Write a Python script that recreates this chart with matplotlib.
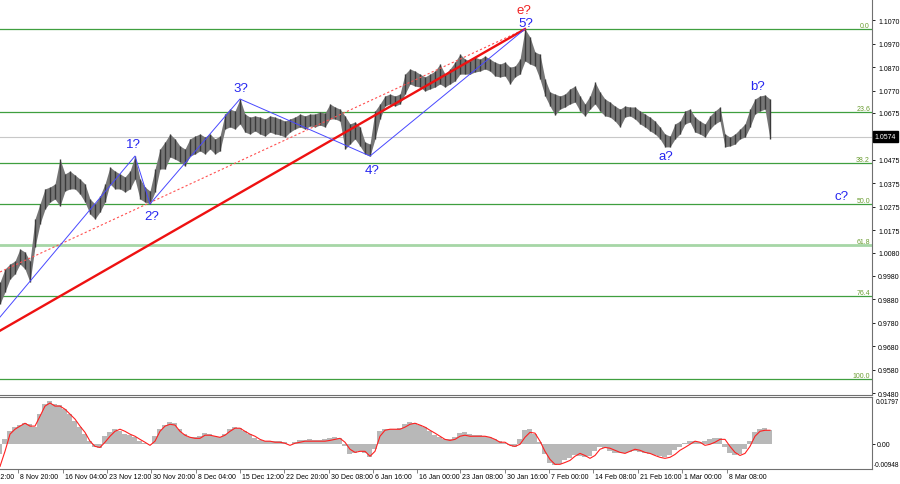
import numpy as np
import matplotlib
matplotlib.use('Agg')
import matplotlib.pyplot as plt
import matplotlib.transforms as mtrans

plt.rcParams['font.family'] = ['Liberation Sans', 'DejaVu Sans']

# ---- price bars (4H EUR/USD, sampled) ----
high = [0.9954, 1.0010, 1.0031, 1.0044, 1.0095, 1.0082, 1.0044, 1.0223, 1.0287, 1.0351,
        1.0359, 1.0372, 1.0478, 1.0415, 1.0427, 1.0410, 1.0393, 1.0372, 1.0308, 1.0287,
        1.0321, 1.0372, 1.0444, 1.0427, 1.0415, 1.0402, 1.0427, 1.0491, 1.0393, 1.0359,
        1.0342, 1.0436, 1.0521, 1.0551, 1.0585, 1.0564, 1.0534, 1.0521, 1.0564, 1.0576,
        1.0585, 1.0572, 1.0585, 1.0564, 1.0576, 1.0670, 1.0691, 1.0683, 1.0734, 1.0670,
        1.0657, 1.0662, 1.0657, 1.0649, 1.0662, 1.0657, 1.0649, 1.0640, 1.0649, 1.0657,
        1.0670, 1.0662, 1.0670, 1.0670, 1.0679, 1.0674, 1.0713, 1.0700, 1.0691, 1.0662,
        1.0628, 1.0636, 1.0615, 1.0551, 1.0542, 1.0683, 1.0713, 1.0747, 1.0755, 1.0747,
        1.0755, 1.0840, 1.0862, 1.0853, 1.0840, 1.0828, 1.0840, 1.0853, 1.0883, 1.0840,
        1.0862, 1.0891, 1.0925, 1.0904, 1.0896, 1.0912, 1.0904, 1.0917, 1.0904, 1.0891,
        1.0883, 1.0891, 1.0870, 1.0874, 1.0904, 1.1032, 1.0998, 1.0934, 1.0925, 1.0819,
        1.0764, 1.0755, 1.0747, 1.0755, 1.0777, 1.0789, 1.0747, 1.0713, 1.0747, 1.0806,
        1.0764, 1.0734, 1.0721, 1.0704, 1.0691, 1.0704, 1.0700, 1.0700, 1.0683, 1.0670,
        1.0657, 1.0640, 1.0615, 1.0585, 1.0576, 1.0628, 1.0640, 1.0683, 1.0691, 1.0657,
        1.0640, 1.0628, 1.0662, 1.0683, 1.0700, 1.0585, 1.0572, 1.0585, 1.0606, 1.0628,
        1.0691, 1.0734, 1.0747, 1.0751, 1.0734]
low = [0.9861, 0.9912, 0.9967, 0.9989, 1.0031, 1.0010, 0.9954, 1.0104, 1.0202, 1.0265,
       1.0295, 1.0308, 1.0278, 1.0342, 1.0351, 1.0351, 1.0329, 1.0295, 1.0244, 1.0223,
       1.0253, 1.0295, 1.0372, 1.0351, 1.0351, 1.0338, 1.0351, 1.0393, 1.0308, 1.0295,
       1.0287, 1.0338, 1.0436, 1.0436, 1.0487, 1.0478, 1.0466, 1.0449, 1.0491, 1.0500,
       1.0513, 1.0500, 1.0521, 1.0500, 1.0513, 1.0606, 1.0615, 1.0606, 1.0628, 1.0593,
       1.0585, 1.0598, 1.0585, 1.0576, 1.0593, 1.0585, 1.0581, 1.0572, 1.0593, 1.0606,
       1.0615, 1.0606, 1.0619, 1.0615, 1.0623, 1.0615, 1.0649, 1.0649, 1.0640, 1.0521,
       1.0542, 1.0564, 1.0534, 1.0500, 1.0491, 1.0564, 1.0649, 1.0704, 1.0713, 1.0704,
       1.0713, 1.0755, 1.0798, 1.0789, 1.0785, 1.0768, 1.0777, 1.0785, 1.0798, 1.0785,
       1.0798, 1.0811, 1.0840, 1.0840, 1.0840, 1.0849, 1.0853, 1.0862, 1.0853, 1.0832,
       1.0828, 1.0832, 1.0798, 1.0828, 1.0840, 1.0896, 1.0883, 1.0874, 1.0819, 1.0747,
       1.0704, 1.0666, 1.0691, 1.0700, 1.0713, 1.0721, 1.0683, 1.0662, 1.0691, 1.0713,
       1.0683, 1.0662, 1.0657, 1.0640, 1.0615, 1.0657, 1.0662, 1.0649, 1.0628, 1.0615,
       1.0598, 1.0585, 1.0564, 1.0530, 1.0530, 1.0564, 1.0585, 1.0628, 1.0636, 1.0593,
       1.0585, 1.0572, 1.0606, 1.0628, 1.0640, 1.0530, 1.0534, 1.0542, 1.0564, 1.0572,
       1.0615, 1.0670, 1.0683, 1.0691, 1.0564]

# ---- oscillator ----
hist = [-0.0039, 0.0019, 0.0050, 0.0066, 0.0074, 0.0081, 0.0077, 0.0066, 0.0116, 0.0155,
        0.0166, 0.0155, 0.0151, 0.0135, 0.0116, 0.0089, 0.0066, 0.0039, 0.0012, -0.0012,
        -0.0015, 0.0031, 0.0046, 0.0058, 0.0050, 0.0039, 0.0035, 0.0027, 0.0012, 0.0004,
        0.0000, 0.0031, 0.0058, 0.0074, 0.0085, 0.0081, 0.0058, 0.0039, 0.0027, 0.0027,
        0.0031, 0.0043, 0.0039, 0.0031, 0.0027, 0.0039, 0.0058, 0.0066, 0.0062, 0.0050,
        0.0039, 0.0023, 0.0015, 0.0012, 0.0012, 0.0012, 0.0012, 0.0008, 0.0000, 0.0008,
        0.0015, 0.0015, 0.0019, 0.0015, 0.0015, 0.0019, 0.0023, 0.0027, 0.0023, -0.0008,
        -0.0039, -0.0035, -0.0027, -0.0035, -0.0050, -0.0019, 0.0050, 0.0058, 0.0058, 0.0058,
        0.0062, 0.0077, 0.0085, 0.0081, 0.0074, 0.0066, 0.0050, 0.0035, 0.0027, 0.0019,
        0.0019, 0.0027, 0.0043, 0.0046, 0.0039, 0.0035, 0.0035, 0.0031, 0.0027, 0.0019,
        0.0012, 0.0004, -0.0004, -0.0012, 0.0019, 0.0054, 0.0058, 0.0039, 0.0008, -0.0039,
        -0.0070, -0.0081, -0.0074, -0.0062, -0.0054, -0.0043, -0.0046, -0.0050, -0.0046, -0.0027,
        -0.0012, -0.0015, -0.0027, -0.0035, -0.0035, -0.0035, -0.0031, -0.0027, -0.0031, -0.0035,
        -0.0039, -0.0043, -0.0046, -0.0050, -0.0043, -0.0023, -0.0012, 0.0004, 0.0012, 0.0012,
        0.0008, 0.0012, 0.0019, 0.0023, 0.0023, -0.0012, -0.0035, -0.0043, -0.0039, -0.0019,
        0.0012, 0.0046, 0.0058, 0.0062, 0.0054]
signal = [-0.0085, -0.0027, 0.0039, 0.0058, 0.0070, 0.0081, 0.0070, 0.0070, 0.0108, 0.0147,
          0.0159, 0.0147, 0.0147, 0.0135, 0.0116, 0.0097, 0.0070, 0.0046, 0.0012, -0.0008,
          -0.0012, 0.0008, 0.0031, 0.0050, 0.0058, 0.0050, 0.0039, 0.0031, 0.0019, 0.0008,
          -0.0004, 0.0012, 0.0050, 0.0070, 0.0077, 0.0074, 0.0050, 0.0035, 0.0027, 0.0023,
          0.0023, 0.0035, 0.0035, 0.0031, 0.0027, 0.0035, 0.0050, 0.0062, 0.0062, 0.0050,
          0.0039, 0.0031, 0.0019, 0.0012, 0.0012, 0.0008, 0.0008, 0.0004, -0.0004, 0.0004,
          0.0008, 0.0012, 0.0012, 0.0012, 0.0012, 0.0012, 0.0015, 0.0019, 0.0023, 0.0008,
          -0.0019, -0.0031, -0.0027, -0.0027, -0.0046, -0.0027, 0.0031, 0.0054, 0.0058, 0.0058,
          0.0058, 0.0066, 0.0077, 0.0081, 0.0074, 0.0066, 0.0054, 0.0043, 0.0031, 0.0019,
          0.0015, 0.0019, 0.0031, 0.0035, 0.0031, 0.0031, 0.0031, 0.0031, 0.0027, 0.0019,
          0.0008, 0.0008, -0.0004, -0.0008, 0.0000, 0.0027, 0.0046, 0.0043, 0.0012, -0.0027,
          -0.0058, -0.0077, -0.0077, -0.0070, -0.0062, -0.0046, -0.0035, -0.0043, -0.0054, -0.0043,
          -0.0019, -0.0012, -0.0015, -0.0023, -0.0031, -0.0035, -0.0027, -0.0019, -0.0023, -0.0031,
          -0.0035, -0.0043, -0.0050, -0.0054, -0.0050, -0.0039, -0.0023, -0.0012, 0.0000, 0.0012,
          0.0008, -0.0004, 0.0000, 0.0008, 0.0019, 0.0019, -0.0008, -0.0031, -0.0043, -0.0035,
          -0.0008, 0.0031, 0.0050, 0.0054, 0.0054]
osc_labels = ['0.01797', '0.00', '-0.00948']

# ---- axes labels ----
date_ticks = [-5.3, 3.6, 12.6, 21.4, 30.2, 39.2, 48.0, 56.8, 65.8, 74.6, 83.4, 92.0,
              101.0, 109.8, 118.6, 127.6, 136.4, 145.4]
date_labels = ['1 Nov 12:00', '8 Nov 20:00', '16 Nov 04:00', '23 Nov 12:00', '30 Nov 20:00',
               '8 Dec 04:00', '15 Dec 12:00', '22 Dec 20:00', '30 Dec 08:00', '6 Jan 16:00',
               '16 Jan 00:00', '23 Jan 08:00', '30 Jan 16:00', '7 Feb 00:00', '14 Feb 08:00',
               '21 Feb 16:00', '1 Mar 00:00', '8 Mar 08:00']
price_ticks = [1.1170, 1.1070, 1.0970, 1.0870, 1.0770, 1.0675, 1.0475, 1.0375, 1.0275,
               1.0175, 1.0080, 0.9980, 0.9880, 0.9780, 0.9680, 0.9580, 0.9480]
last_price = 1.0574

# ---- Fibonacci & wave markup ----
fib_levels = [0.0, 23.6, 38.2, 50.0, 61.8, 76.4, 100.0]
fib_high, fib_low = 1.1032, 0.9541
wave_x = [0, 27, 30, 48, 74, 105]
wave_y = [0.9805, 1.0491, 1.0287, 1.0734, 1.0491, 1.1032]
trend_thick = ([0, 105], [0.9747, 1.1032])
trend_dash = ([0, 105], [0.9997, 1.1032])
wave_labels = ['1?', '2?', '3?', '4?', '5?', 'e?', 'a?', 'b?', 'c?']
wave_lx = [26.6, 30.4, 48.2, 74.4, 105.2, 104.8, 133.2, 151.6, 168.4]
wave_ly = [1.0542, 1.0236, 1.0781, 1.0432, 1.1058, 1.1113, 1.0491, 1.0789, 1.0321]
wave_lc = ['#2626f0'] * 5 + ['#f02020'] + ['#2626f0'] * 3

W, H = 900, 485
fig = plt.figure(figsize=(W / 100, H / 100), dpi=100)
ax = fig.add_axes([0, 89 / H, 872 / W, 396 / H])
ax2 = fig.add_axes([0, 15 / H, 872 / W, 72 / H])

idx = np.arange(len(high))
xmax = 872 / 5
spine_c = '#707070'
TS = 5.0

# main panel
ax.set_xlim(0, xmax)
ax.set_ylim(1.1160 - 0.000426 * 396, 1.1160)
ax.axhline(last_price, color='#c8c8c8', lw=0.8, zorder=1)
for lv in fib_levels:
    p = fib_high - lv / 100 * (fib_high - fib_low)
    if lv == 61.8:
        ax.axhline(p, color='#a6d6a6', lw=2.0, zorder=1)
    else:
        ax.axhline(p, color='#3f9f3f', lw=0.9, zorder=1)
    ax.text(870 / 872, p, f'{lv:.1f}', transform=mtrans.blended_transform_factory(ax.transAxes, ax.transData),
            ha='right', va='bottom', fontsize=TS, color='#6a9c30')

ax.fill_between(idx, low, high, color='#767676', linewidth=0, zorder=2)
ax.vlines(idx, low, high, colors='#3a3a3a', linewidth=1.0, zorder=3)

ax.plot(*trend_dash, color='#ff5050', lw=0.8, ls=(0, (2, 2)), zorder=4)
ax.plot(*trend_thick, color='#ee1111', lw=1.7, zorder=4)
ax.plot(wave_x, wave_y, color='#4848ff', lw=0.7, zorder=5)
for t, lx, ly, c in zip(wave_labels, wave_lx, wave_ly, wave_lc):
    ax.text(lx, ly, t, color=c, fontsize=9.5, ha='center', va='center', zorder=6)

for s in ['left', 'top']:
    ax.spines[s].set_visible(False)
for s in ['right', 'bottom']:
    ax.spines[s].set_color(spine_c)
    ax.spines[s].set_linewidth(0.8)
ax.set_xticks([])
ax.yaxis.tick_right()
ax.set_yticks(price_ticks[1:])
ax.set_yticklabels([f'{v:.4f}' for v in price_ticks[1:]])
ax.tick_params(axis='y', length=2.5, width=0.6, pad=2, labelsize=TS, colors='black')
ax.text(1.0 + 4.5 / 872, price_ticks[0], f'{price_ticks[0]:.4f}',
        transform=mtrans.blended_transform_factory(ax.transAxes, ax.transData),
        ha='left', va='center', fontsize=TS, clip_on=False)
ax.text(1.003, last_price, f'{last_price:.4f}', transform=mtrans.blended_transform_factory(ax.transAxes, ax.transData),
        ha='left', va='center', fontsize=TS, color='white', clip_on=False,
        bbox=dict(facecolor='black', edgecolor='black', boxstyle='square,pad=0.3'))

# oscillator panel
ax2.set_xlim(0, xmax)
ax2.set_ylim(-0.0095, 0.0182)
ax2.bar(idx, hist, width=1.0, color='#b8b8b8', linewidth=0, zorder=2)
ax2.plot(idx, signal, color='#ff2020', lw=0.8, zorder=3)
ax2.spines['left'].set_visible(False)
for s in ['right', 'bottom', 'top']:
    ax2.spines[s].set_color(spine_c)
    ax2.spines[s].set_linewidth(0.8)
ax2.yaxis.tick_right()
ax2.set_yticks([0.0])
ax2.set_yticklabels([])
ax2.tick_params(axis='y', length=2.5, width=0.6)
bt = mtrans.blended_transform_factory(ax2.transAxes, ax2.transAxes)
for lab, yy in zip(osc_labels, [0.94, 0.0, 0.06]):
    if lab == '0.00':
        ax2.text(1.0 + 4.5 / 872, 0.0, lab, transform=mtrans.blended_transform_factory(ax2.transAxes, ax2.transData),
                 ha='left', va='center', fontsize=TS, clip_on=False)
    else:
        ax2.text(1.0 + (1.5 if lab.startswith('-') else 3.5) / 872, yy, lab, transform=bt,
                 ha='left', va='center', fontsize=4.7, clip_on=False)

ax2.set_xticks([t for t in date_ticks if t >= 0])
ax2.set_xticklabels([])
ax2.tick_params(axis='x', length=3, width=0.6, colors=spine_c)
off = mtrans.ScaledTranslation(2 / 100, -4 / 100, fig.dpi_scale_trans)
dt = mtrans.blended_transform_factory(ax2.transData, ax2.transAxes) + off
for t, lab in zip(date_ticks, date_labels):
    ax2.text(t, 0, lab, transform=dt, ha='left', va='top', fontsize=TS, color='black', clip_on=False)

fig.savefig('out.png', dpi=100)
